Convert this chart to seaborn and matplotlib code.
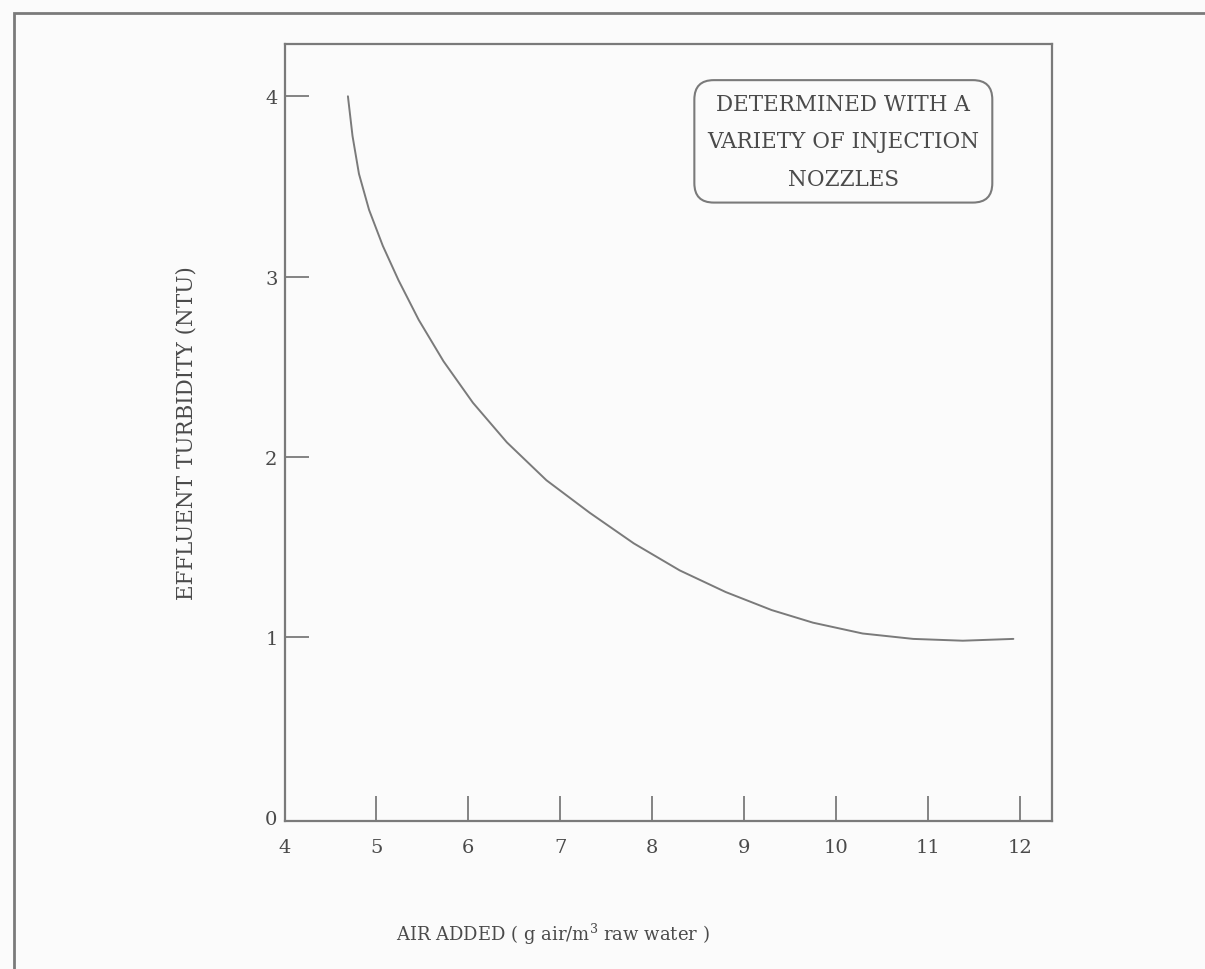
import matplotlib
matplotlib.use("Agg")
import matplotlib.pyplot as plt
import seaborn as sns
import pandas as pd
from matplotlib.patches import Rectangle

# data
air_added = [4.69, 4.74, 4.81, 4.92, 5.07, 5.24, 5.46, 5.73, 6.05, 6.42,
             6.85, 7.32, 7.80, 8.30, 8.80, 9.30, 9.75, 10.29, 10.84, 11.38, 11.93]
turbidity = [4.00, 3.78, 3.57, 3.37, 3.17, 2.98, 2.76, 2.53, 2.30, 2.08,
             1.87, 1.69, 1.52, 1.37, 1.25, 1.15, 1.08, 1.02, 0.99, 0.98, 0.99]
x_ticks = [4, 5, 6, 7, 8, 9, 10, 11, 12]
y_ticks = [0, 1, 2, 3, 4]
note_lines = ["DETERMINED WITH A", "VARIETY OF INJECTION", "NOZZLES"]
x_label = "AIR ADDED ( g air/m$^3$ raw water )"
y_label = "EFFLUENT TURBIDITY (NTU)"

sns.set_theme(style="white")
plt.rcParams['font.family'] = ['DejaVu Serif']
plt.rcParams['mathtext.fontset'] = 'dejavuserif'

LINE = "#7a7a7a"
TEXT = "#4a4a4a"
BG = "#fbfbfb"

fig = plt.figure(figsize=(12.05, 9.70), dpi=100, facecolor=BG)
ax = fig.add_axes([0.2361, 0.1526, 0.6369, 0.801])
ax.set_facecolor(BG)

df = pd.DataFrame({"air": air_added, "turb": turbidity})
sns.lineplot(data=df, x="air", y="turb", ax=ax, color=LINE, linewidth=1.4,
             sort=False, estimator=None)

ax.set_xlim(4, 12.35)
ax.set_ylim(-0.02, 4.29)
ax.set_xticks(x_ticks)
ax.set_yticks(y_ticks)
ax.set_xticklabels([str(v) for v in x_ticks])
ax.set_yticklabels([str(v) for v in y_ticks])
ax.tick_params(axis='x', bottom=True, direction='in', length=18, width=1.3,
               color=LINE, labelsize=14, labelcolor=TEXT, pad=12)
ax.tick_params(axis='y', left=True, direction='in', length=17, width=1.3,
               color=LINE, labelsize=14, labelcolor=TEXT, pad=5)
ax.xaxis.get_major_ticks()[0].tick1line.set_visible(False)
ax.yaxis.get_major_ticks()[0].tick1line.set_visible(False)
for s in ax.spines.values():
    s.set_color(LINE)
    s.set_linewidth(1.6)
    s.set_visible(True)

ax.set_xlabel(x_label, fontsize=13, color=TEXT)
ax.xaxis.set_label_coords(0.35, -0.128)
ax.set_ylabel(y_label, fontsize=15.5, color=TEXT, labelpad=49)

# note box
ax.text(10.08, 3.75, "\n".join(note_lines), ha='center', va='center',
        fontsize=15.5, color=TEXT, linespacing=1.9,
        bbox=dict(boxstyle="round,pad=0.6,rounding_size=0.9", fc=BG, ec=LINE, lw=1.5))

# outer frame
fig.patches.append(Rectangle((14 / 1205, -0.05), 1.2, 1 - 14 / 970 + 0.05,
                             transform=fig.transFigure, fill=False,
                             ec=LINE, lw=2.0, clip_on=False))

fig.savefig("out.png", dpi=100, facecolor=BG)
